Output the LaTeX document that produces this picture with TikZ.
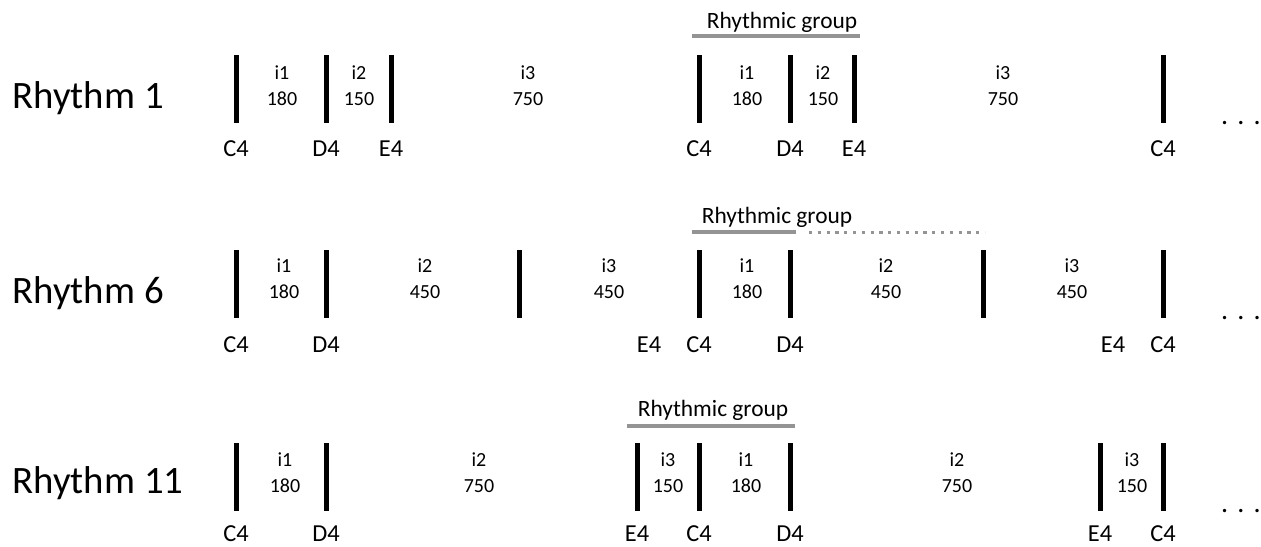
\documentclass[tikz,border=0pt]{standalone}
\usepackage{fontspec}
\setmainfont{Carlito}
\usetikzlibrary{positioning}

\begin{document}
\begin{tikzpicture}[x=0.5pt,y=-0.5pt,
  bar/.style={line width=2.5pt},
  ival/.style={align=center,font=\fontsize{10}{13}\selectfont,inner sep=0pt},
  note/.style={font=\fontsize{12.2}{14}\selectfont,inner sep=0pt},
  rname/.style={anchor=west,font=\fontsize{19.4}{22}\selectfont,inner sep=0pt},
  grp/.style={font=\fontsize{11.7}{13}\selectfont,inner sep=0pt},
  grpline/.style={line width=2pt,draw=black!42},
  grpdots/.style={grpline,line width=1.5pt,dash pattern=on 1.6pt off 2.8pt},
  more/.style={anchor=base,font=\fontsize{14}{16}\selectfont,inner sep=0pt}]

  \useasboundingbox (0,0) rectangle (1261,546);

  % Rhythm 1
  \node[rname] (rh1) at (12,98) {Rhythm 1};
  \foreach \x in {236,326,391,699,790,854,1163}
    \draw[bar] (\x,55) -- (\x,123);
  \foreach \x/\i/\d in {282/1/180,359/2/150,528/3/750,747/1/180,823/2/150,1003/3/750}
    \node[ival] (rh1i\x) at (\x,86) {i\i\\\d};
  \foreach \x/\n in {236/C4,326/D4,391/E4,699/C4,790/D4,854/E4,1163/C4}
    \node[note] (rh1n\x) at (\x,149) {\n};
  \coordinate (grp1a) at (692,36);
  \coordinate (grp1b) at (860,36);
  \draw[grpline] (grp1a) -- (grp1b);
  \node[grp] (grp1) at (782,22) {Rhythmic group};
  \node[more] (rh1more) at (1241,124) {.\kern4.6pt.\kern4.6pt.};

  % Rhythm 6
  \node[rname] (rh6) at (12,293) {Rhythm 6};
  \foreach \x in {236,326,519,699,790,983,1163}
    \draw[bar] (\x,250) -- (\x,318);
  \foreach \x/\i/\d in {284/1/180,425/2/450,609/3/450,747/1/180,886/2/450,1072/3/450}
    \node[ival] (rh6i\x) at (\x,279) {i\i\\\d};
  \foreach \x/\n in {236/C4,326/D4,649/E4,699/C4,790/D4,1113/E4,1163/C4}
    \node[note] (rh6n\x) at (\x,345) {\n};
  \coordinate (grp6a) at (692,232);
  \coordinate (grp6b) at (796,232);
  \coordinate (grp6c) at (809,232);
  \coordinate (grp6d) at (985,232);
  \draw[grpline] (grp6a) -- (grp6b);
  \draw[grpdots] (grp6c) -- (grp6d);
  \node[grp] (grp6) at (777,217) {Rhythmic group};
  \node[more] (rh6more) at (1241,319) {.\kern4.6pt.\kern4.6pt.};

  % Rhythm 11
  \node[rname] (rh11) at (12,483) {Rhythm 11};
  \foreach \x in {236,326,637,699,790,1100,1163}
    \draw[bar] (\x,443) -- (\x,511);
  \foreach \x/\i/\d in {285/1/180,479/2/750,668/3/150,746/1/180,957/2/750,1132/3/150}
    \node[ival] (rh11i\x) at (\x,473) {i\i\\\d};
  \foreach \x/\n in {236/C4,326/D4,637/E4,699/C4,790/D4,1100/E4,1163/C4}
    \node[note] (rh11n\x) at (\x,534) {\n};
  \coordinate (grp11a) at (627,426);
  \coordinate (grp11b) at (795,426);
  \draw[grpline] (grp11a) -- (grp11b);
  \node[grp] (grp11) at (713,410) {Rhythmic group};
  \node[more] (rh11more) at (1241,512) {.\kern4.6pt.\kern4.6pt.};
\end{tikzpicture}
\end{document}
